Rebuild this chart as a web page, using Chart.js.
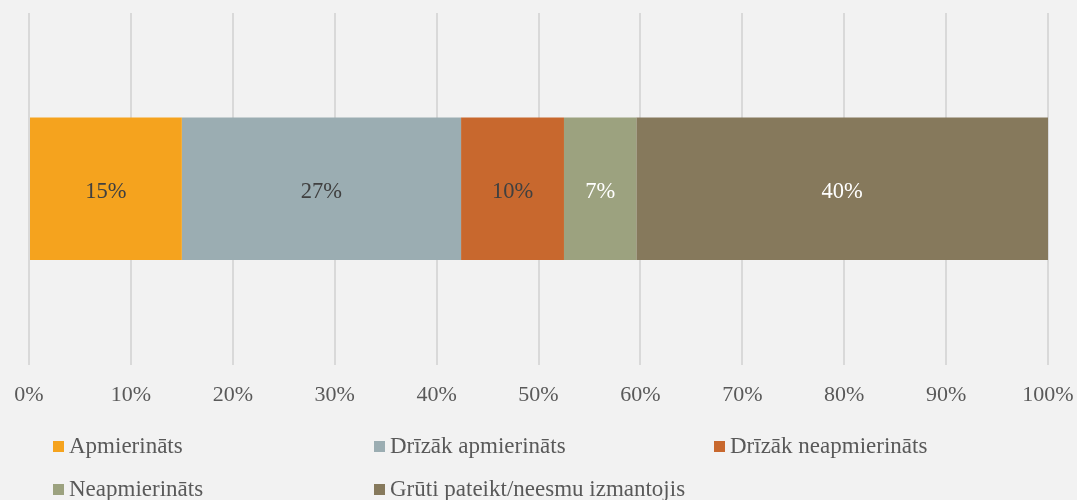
<!doctype html>
<html lang="lv">
  <head>
    <meta charset="UTF-8" />
    <title>Apmierinātība</title>
    <script src="https://cdn.jsdelivr.net/npm/chart.js@4.4.1/dist/chart.umd.min.js"></script>
    <style>
      html, body { margin: 0; padding: 0; background: #f2f2f2; }
      body { font-family: "Liberation Serif", "Times New Roman", serif; }
      .wrap { position: relative; width: 1077px; height: 500px; }
      #legend { position: absolute; left: 0; top: 0; width: 1077px; height: 500px; pointer-events: none; }
      .item { position: absolute; font-size: 23px; color: #595959; white-space: nowrap; line-height: 26px; }
      .item span.box { display: inline-block; width: 11px; height: 11px; margin-right: 5px; vertical-align: 1px; }
    </style>
  </head>
  <body>
    <div class="wrap">
      <canvas id="chart" width="1077" height="500"></canvas>
      <div id="legend"></div>
    </div>
    <script>
      // values (percent)
      const categories = [""];
      const seriesNames = [
        "Apmierināts",
        "Drīzāk apmierināts",
        "Drīzāk neapmierināts",
        "Neapmierināts",
        "Grūti pateikt/neesmu izmantojis",
      ];
      const seriesValues = [15.0, 27.4, 10.1, 7.1, 40.4];
      const valueLabels = ["15%", "27%", "10%", "7%", "40%"];
      const colors = ["#f5a31e", "#9badb2", "#c8682e", "#9ca27f", "#86795c"];
      const labelColors = ["#404040", "#404040", "#404040", "#ffffff", "#ffffff"];

      const datasets = seriesNames.map((name, i) => ({
        label: name,
        data: [seriesValues[i]],
        backgroundColor: colors[i],
        barPercentage: 0.405,
        categoryPercentage: 1,
      }));

      // draw the percentage inside each bar segment
      const valueText = {
        id: "valueText",
        afterDatasetsDraw(chart) {
          const ctx = chart.ctx;
          ctx.save();
          ctx.font = '22.5px "Liberation Serif"';
          ctx.textAlign = "center";
          ctx.textBaseline = "middle";
          chart.data.datasets.forEach((ds, i) => {
            const bar = chart.getDatasetMeta(i).data[0];
            ctx.fillStyle = labelColors[i];
            ctx.fillText(valueLabels[i], (bar.x + bar.base) / 2, bar.y + 3);
          });
          ctx.restore();
        },
      };

      new Chart(document.getElementById("chart"), {
        type: "bar",
        data: { labels: categories, datasets: datasets },
        plugins: [valueText],
        options: {
          indexAxis: "y",
          responsive: false,
          animation: false,
          layout: { padding: { left: 29, right: 29, top: 13, bottom: 75 } },
          plugins: { legend: { display: false }, tooltip: { enabled: false } },
          scales: {
            x: {
              stacked: true,
              min: 0,
              max: 100,
              border: { display: false },
              grid: { color: "#d9d9d9", lineWidth: 2, drawTicks: false },
              afterFit(scale) {
                // let the layout padding alone decide the plot edges
                scale.paddingLeft = 0;
                scale.paddingRight = 0;
              },
              ticks: {
                stepSize: 10,
                padding: 17,
                color: "#595959",
                font: { family: "Liberation Serif", size: 22 },
                callback: (v) => v + "%",
              },
            },
            y: { stacked: true, display: false },
          },
        },
      });

      // legend laid out in fixed columns like the original
      const legendPos = [
        [53, 433], [374, 433], [714, 433],
        [53, 476], [374, 476],
      ];
      const legend = document.getElementById("legend");
      seriesNames.forEach((name, i) => {
        const el = document.createElement("div");
        el.className = "item";
        el.style.left = legendPos[i][0] + "px";
        el.style.top = legendPos[i][1] + "px";
        el.innerHTML = '<span class="box" style="background:' + colors[i] + '"></span>' + name;
        legend.appendChild(el);
      });
    </script>
  </body>
</html>
